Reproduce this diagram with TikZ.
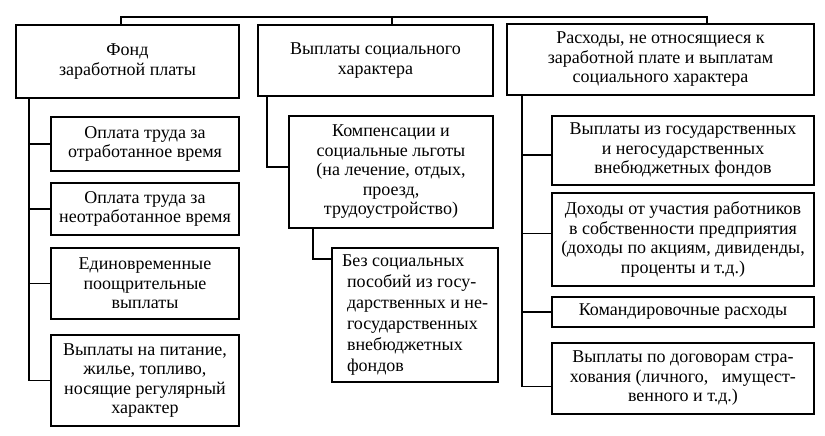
\documentclass[tikz,border=0pt]{standalone}
\usepackage{fontspec}
\setmainfont{Liberation Serif}
\begin{document}
\begin{tikzpicture}[x=1pt,y=-1pt,
  box/.style={draw,line width=1.7pt,inner sep=0pt,align=center,font=\fontsize{18}{19.5}\selectfont},
  conn/.style={line width=1.7pt}]
\useasboundingbox (0,0) rectangle (825,436);
\node[box,minimum width=223,minimum height=73] (b1) at (127.5,61.5) {Фонд\\заработной платы};
\node[box,minimum width=235,minimum height=71] (b2) at (375.5,60.5) {Выплаты социального\\характера};
\node[box,minimum width=307,minimum height=71] (b3) at (660.5,59.5) {Расходы, не относящиеся к\\заработной плате и выплатам\\социального характера};
\node[box,minimum width=188,minimum height=54] (l1) at (145,144) {Оплата труда за\\отработанное время};
\node[box,minimum width=188,minimum height=52] (l2) at (145,209) {Оплата труда за\\неотработанное время};
\node[box,minimum width=188,minimum height=71] (l3) at (145,283.5) {Единовременные\\поощрительные\\выплаты};
\node[box,minimum width=188,minimum height=91] (l4) at (145,380.5) {Выплаты на питание,\\жилье, топливо,\\носящие регулярный\\характер};
\node[box,minimum width=204,minimum height=112] (m1) at (391,172) {Компенсации и\\социальные льготы\\(на лечение, отдых,\\проезд,\\трудоустройство)};
\node[box,minimum width=166,minimum height=134,align=left,font=\fontsize{18}{21}\selectfont] (m2) at (415,315) {Без социальных\\\hspace*{5pt}пособий из госу-\\\hspace*{5pt}дарственных и не-\\\hspace*{5pt}государственных\\\hspace*{5pt}внебюджетных\\\hspace*{5pt}фондов};
\node[box,minimum width=262,minimum height=69] (r1) at (683,150.5) {Выплаты из государственных\\и негосударственных\\внебюджетных фондов};
\node[box,minimum width=262,minimum height=93] (r2) at (683,239.5) {Доходы от участия работников\\в собственности предприятия\\(доходы по акциям, дивиденды,\\проценты и т.д.)};
\node[box,minimum width=262,minimum height=30] (r3) at (683,312) {Командировочные расходы};
\node[box,minimum width=262,minimum height=71] (r4) at (683,378.5) {Выплаты по договорам стра-\\хования (личного,\ \ \ имущест-\\венного и т.д.)};
% top bus
\coordinate (t1) at ([xshift=-6.5pt]b1.north);
\coordinate (t2) at ([xshift=16.5pt]b2.north);
\coordinate (t3) at ([xshift=46.5pt]b3.north);
\coordinate (bus) at (0,17);
\draw[conn] (t1) -- (t1 |- bus) -- (t3 |- bus) -- (t3);
\draw[conn] (t2) -- (t2 |- bus);
% left spine
\coordinate (ls) at ([xshift=14pt]b1.south west);
\draw[conn] (ls) |- (l4.west);
\draw[conn] (ls) |- (l1.west);
\draw[conn] (ls) |- (l2.west);
\draw[conn] (ls) |- (l3.west);
% middle
\coordinate (ms) at ([xshift=10pt]b2.south west);
\draw[conn] (ms) |- ([yshift=5pt]m1.west);
\coordinate (ms2) at ([xshift=25pt]m1.south west);
\draw[conn] (ms2) |- ([yshift=-12pt]m2.north west);
% right spine
\coordinate (rs) at ([xshift=16pt]b3.south west);
\draw[conn] (rs) |- ([yshift=-8pt]r4.west);
\draw[conn] (rs) |- ([yshift=-4.5pt]r1.west);
\draw[conn] (rs) |- ([yshift=6pt]r2.west);
\draw[conn] (rs) |- (r3.west);
\end{tikzpicture}
\end{document}
